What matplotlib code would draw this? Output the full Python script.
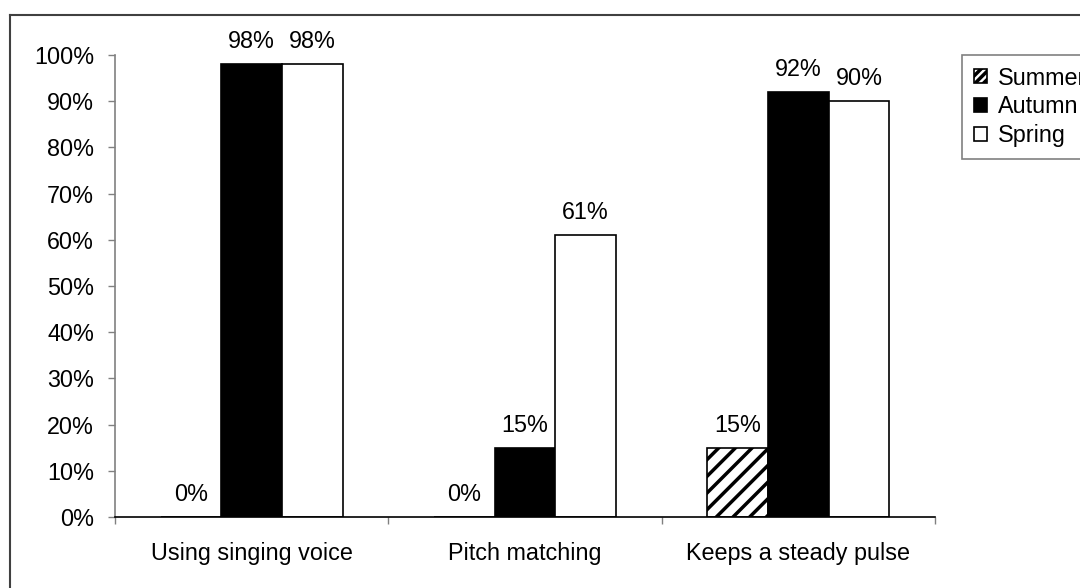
import matplotlib.pyplot as plt
import numpy as np
from matplotlib.patches import Patch
from matplotlib.lines import Line2D

plt.rcParams['font.family'] = ['Liberation Sans', 'DejaVu Sans']
plt.rcParams['hatch.linewidth'] = 2.5

# data
categories = ['Using singing voice', 'Pitch matching', 'Keeps a steady pulse']
summer = [0, 0, 15]
autumn = [98, 15, 92]
spring = [98, 61, 90]
series_names = ['Summer', 'Autumn', 'Spring']

fig = plt.figure(figsize=(10.8, 5.88), dpi=100)
ax = fig.add_axes([115/1080, 71/588, 820/1080, 462/588])

x = np.arange(len(categories))
w = 0.222
fs = 16.8

b1 = ax.bar(x - w, summer, w, facecolor='white', edgecolor='black',
            hatch='//', linewidth=1.2)
b2 = ax.bar(x, autumn, w, facecolor='black', edgecolor='black', linewidth=1.2)
b3 = ax.bar(x + w, spring, w, facecolor='white', edgecolor='black', linewidth=1.2)

for bars, vals in [(b1, summer), (b2, autumn), (b3, spring)]:
    for rect, v in zip(bars, vals):
        ax.annotate('%d%%' % v, (rect.get_x() + rect.get_width()/2, v),
                    xytext=(0, 8), textcoords='offset points',
                    ha='center', va='bottom', fontsize=fs)

ax.set_xlim(-0.5, 2.5)
ax.set_ylim(0, 100)
ax.set_yticks(np.arange(0, 101, 10))
ax.set_yticklabels(['%d%%' % v for v in range(0, 101, 10)])
ax.set_xticks(x)
ax.set_xticklabels(categories)
ax.set_xticks([-0.5, 0.5, 1.5, 2.5], minor=True)

ax.spines['top'].set_visible(False)
ax.spines['right'].set_visible(False)
ax.spines['left'].set_color('#808080')
ax.spines['left'].set_linewidth(1.2)
ax.spines['bottom'].set_color('black')
ax.spines['bottom'].set_linewidth(1.2)

ax.tick_params(axis='y', direction='out', length=5, width=1, color='#808080',
               pad=10, labelsize=fs)
ax.tick_params(axis='x', which='major', length=0, pad=18, labelsize=fs)
ax.tick_params(axis='x', which='minor', direction='out', length=5, width=1,
               color='#808080')

# legend sits partly off the right edge, as in the reference
handles = [Patch(facecolor='white', edgecolor='black', hatch='////', linewidth=1.2),
           Patch(facecolor='black', edgecolor='black', linewidth=1.2),
           Patch(facecolor='white', edgecolor='black', linewidth=1.2)]
leg = fig.legend(handles, series_names, loc='upper left',
                 bbox_to_anchor=(962/1080, 1 - 55/588), borderaxespad=0,
                 fancybox=False, edgecolor='#808080', framealpha=1,
                 fontsize=fs, handlelength=0.55, handleheight=0.55,
                 handletextpad=0.5, borderpad=0.5, labelspacing=0.25)
leg.get_frame().set_linewidth(1.2)

# outer chart frame (right and bottom sides fall outside the image)
fig.add_artist(Line2D([9.5/1080, 1.0], [1 - 14.5/588] * 2, transform=fig.transFigure,
                      color='#404040', linewidth=1.5))
fig.add_artist(Line2D([9.5/1080] * 2, [0, 1 - 14.5/588], transform=fig.transFigure,
                      color='#404040', linewidth=1.5))

fig.savefig('out.png', dpi=100)
